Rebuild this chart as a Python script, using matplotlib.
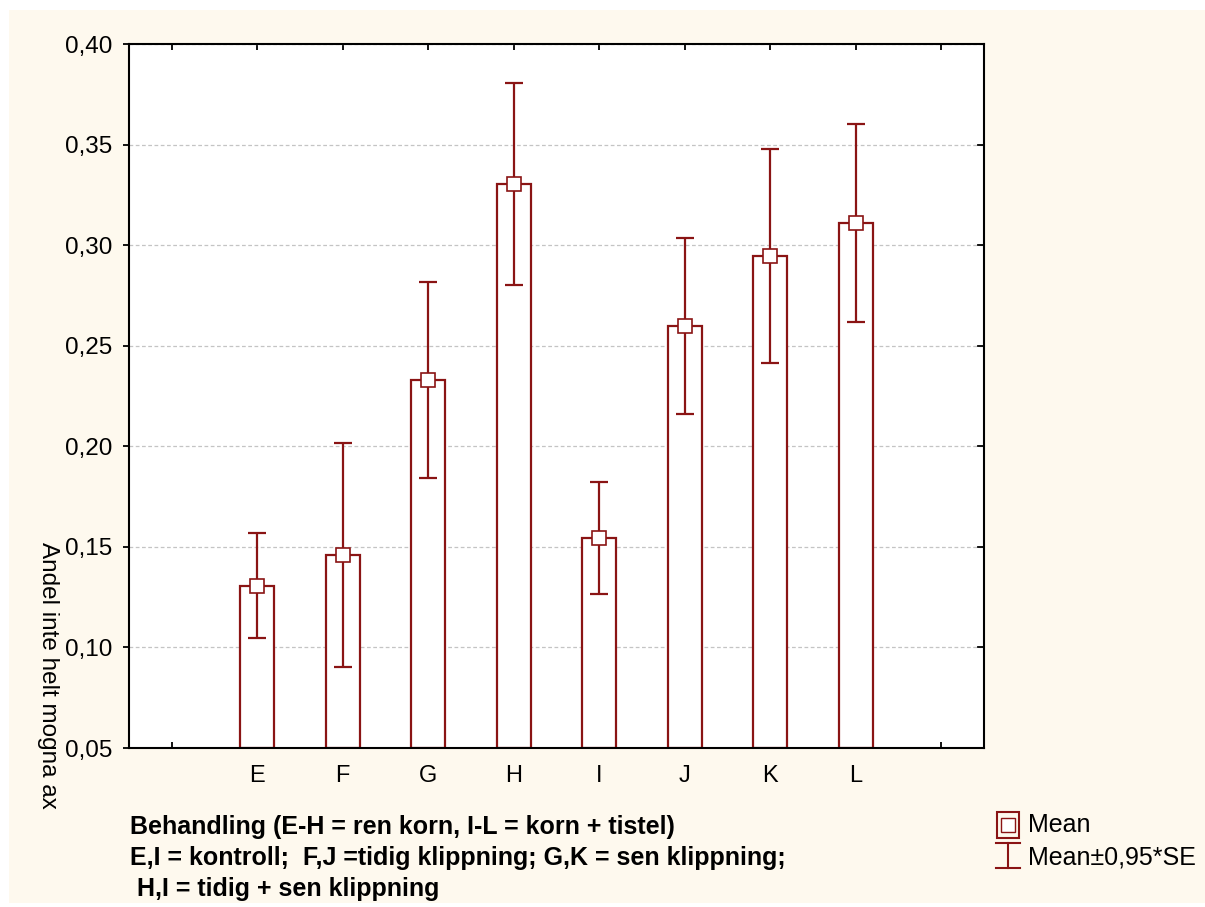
import matplotlib.pyplot as plt
from matplotlib.patches import Rectangle
from matplotlib.lines import Line2D

## Data
categories = ['E', 'F', 'G', 'H', 'I', 'J', 'K', 'L']
means = [0.1307, 0.1460, 0.2330, 0.3304, 0.1544, 0.2598, 0.2946, 0.3110]
err = [0.0260, 0.0557, 0.0487, 0.0500, 0.0277, 0.0439, 0.0532, 0.0494]
yticks = [0.05, 0.10, 0.15, 0.20, 0.25, 0.30, 0.35, 0.40]

red = '#8a1414'
cream = '#fef9ee'
W, H = 1205, 907

fig = plt.figure(figsize=(W / 100, H / 100), dpi=100, facecolor='white')
plt.rcParams['font.family'] = ['Liberation Sans', 'DejaVu Sans']

## cream panel behind everything
fig.patches.append(Rectangle((9 / W, 1 - 903 / H), (W - 9) / W, (903 - 10) / H,
                             transform=fig.transFigure, facecolor=cream,
                             edgecolor='none', zorder=-10))

ax = fig.add_axes([129 / W, 1 - 748 / H, (984 - 129) / W, (748 - 44) / H])
ax.set_facecolor('white')

pos = list(range(1, len(categories) + 1))
ax.bar(pos, [m - 0.05 for m in means], bottom=0.05, width=0.4,
       facecolor='white', edgecolor=red, linewidth=1.6, zorder=2)
ax.errorbar(pos, means, yerr=err, fmt='none', ecolor=red, elinewidth=1.6,
            capsize=6.5, capthick=1.6, zorder=3)
ax.plot(pos, means, 's', markersize=10, markerfacecolor='white',
        markeredgecolor=red, markeredgewidth=1.2, linestyle='none', zorder=4)

ax.set_xlim(-0.5, 9.5)
ax.set_ylim(0.05, 0.40)
ax.set_xticks(range(0, 10))
ax.set_xticklabels([''] + categories + [''], fontsize=17)
ax.set_yticks(yticks)
ax.set_yticklabels([f'{v:.2f}'.replace('.', ',') for v in yticks], fontsize=17.5)
ax.tick_params(axis='x', direction='in', top=True, length=4, width=1.3, pad=12)
ax.tick_params(axis='y', direction='out', length=4, width=1.3, pad=8)
ax.yaxis.grid(True, linestyle=(0, (3, 2)), color='#c4c4c4', linewidth=0.9, zorder=0)
ax.set_axisbelow(True)
for s in ax.spines.values():
    s.set_linewidth(1.5)
    s.set_color('black')

## right-hand inward y ticks
for v in yticks[1:-1]:
    ax.plot([1.0, 0.993], [v, v], transform=ax.get_yaxis_transform(),
            color='black', linewidth=1.3, clip_on=False, zorder=5)

fig.text(48 / W, 1 - 675 / H, 'Andel inte helt mogna ax', rotation=270,
         ha='center', va='center', fontsize=17.5)

## bottom caption
lines = ['Behandling (E-H = ren korn, I-L = korn + tistel)',
         'E,I = kontroll;  F,J =tidig klippning; G,K = sen klippning;',
         ' H,I = tidig + sen klippning']
for i, t in enumerate(lines):
    fig.text(130 / W, 1 - (827 + 31 * i) / H, t, fontsize=18,
             fontweight='bold', ha='left', va='center')

## legend
lx, ly = 1008, 825
fig.patches.append(Rectangle(((lx - 11) / W, 1 - (ly + 13) / H), 22 / W, 26 / H,
                             transform=fig.transFigure, facecolor='none',
                             edgecolor=red, linewidth=1.5))
fig.patches.append(Rectangle(((lx - 7) / W, 1 - (ly + 7) / H), 14 / W, 14 / H,
                             transform=fig.transFigure, facecolor='white',
                             edgecolor=red, linewidth=1.0))
fig.add_artist(Line2D([lx / W, lx / W], [1 - 843 / H, 1 - 868 / H], color=red,
                      linewidth=1.5, transform=fig.transFigure))
for yy in (843, 868):
    fig.add_artist(Line2D([(lx - 12) / W, (lx + 12) / W], [1 - yy / H, 1 - yy / H],
                          color=red, linewidth=1.5, transform=fig.transFigure))
fig.text(1028 / W, 1 - 825 / H, 'Mean', fontsize=18, ha='left', va='center')
fig.text(1028 / W, 1 - 857 / H, 'Mean±0,95*SE', fontsize=18, ha='left', va='center')

fig.savefig('out.png', dpi=100, facecolor='white')
